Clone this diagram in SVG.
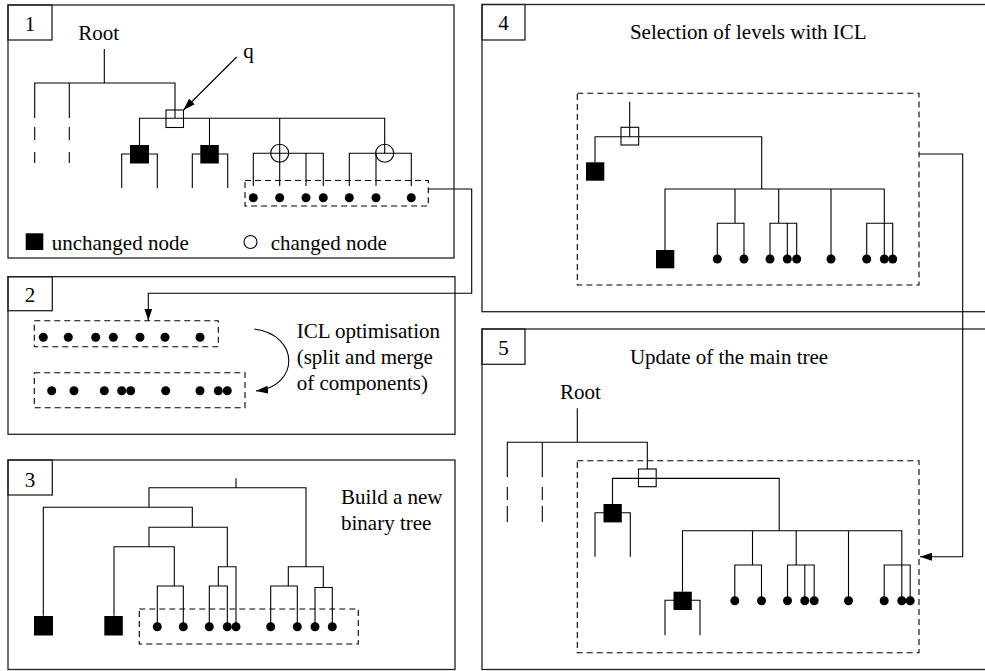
<svg xmlns="http://www.w3.org/2000/svg" width="985" height="671" viewBox="0 0 985 671" font-family="'Liberation Serif', 'Times New Roman', Times, 'DejaVu Serif', serif">
<style>
.ln{stroke:#000;stroke-width:1.1;fill:none}
.panel{fill:none;stroke:#222;stroke-width:1.3}
.dash{fill:none;stroke:#000;stroke-width:1.1;stroke-dasharray:6 4}
.dot{fill:#000}
.sq{fill:#000}
.hsq{fill:none;stroke:#000;stroke-width:1.1}
text{font-family:'Liberation Serif','Times New Roman',Times,'DejaVu Serif',serif;font-size:21px;fill:#000}
.num{text-anchor:middle}
</style>
<defs>
<marker id="ah" markerWidth="12" markerHeight="8" refX="12" refY="4" orient="auto" markerUnits="userSpaceOnUse"><path d="M0,0 L12,4 L0,8 z" fill="#000"/></marker>
</defs>
<rect width="985" height="671" fill="#fff"/>

<!-- Panel 1 -->
<g id="panel1">
<rect class="panel" x="8" y="5" width="446" height="253"/>
<rect class="panel" x="8" y="5" width="44" height="35"/>
<text class="num" x="30" y="31">1</text>
<text x="78.3" y="40">Root</text>
<text x="243.3" y="57.5">q</text>
<path class="ln" d="M104.3,49 V83 M34.7,118 V83 H175 V118 M69.3,83 V118 M34.7,127 V140 M34.7,152 V163 M69.3,127 V140 M69.3,152 V163"/>
<path class="ln" d="M139.5,145 V118.3 H384.7 V153.3 M209.5,118.3 V145 M279.7,118.3 V186"/>
<rect class="hsq" x="166" y="110" width="17.5" height="17.5"/>
<path class="ln" d="M121.7,188 V154 H157.3 V188 M192.3,188 V154 H227.7 V188"/>
<rect class="sq" x="130" y="145" width="19" height="18.5"/>
<rect class="sq" x="200.3" y="145" width="18.5" height="18.5"/>
<path class="ln" d="M253.3,186 V153.3 H323.3 V186 M306,153.3 V186 M349.3,186 V153.3 H411.3 V186 M376,153.3 V186"/>
<circle class="hsq" cx="279.7" cy="153.3" r="9"/>
<circle class="hsq" cx="384.7" cy="153.3" r="9"/>
<g class="dot"><circle cx="253.3" cy="197.7" r="4.5"/><circle cx="279.7" cy="197.7" r="4.5"/><circle cx="306" cy="197.7" r="4.5"/><circle cx="323.3" cy="197.7" r="4.5"/><circle cx="349.3" cy="197.7" r="4.5"/><circle cx="376" cy="197.7" r="4.5"/><circle cx="411.3" cy="197.7" r="4.5"/></g>
<rect class="dash" x="245" y="180.5" width="183.3" height="25.5"/>
<rect class="sq" x="25.7" y="233.3" width="17.6" height="16.7"/>
<text x="51.7" y="249.5">unchanged node</text>
<circle class="hsq" cx="250.5" cy="242" r="6.5"/>
<text x="270.7" y="249.5">changed node</text>
</g>

<!-- Panel 2 -->
<g id="panel2">
<rect class="panel" x="8" y="276.7" width="447" height="157.6"/>
<rect class="panel" x="8" y="276.7" width="44.3" height="34"/>
<text class="num" x="30" y="302">2</text>
<rect class="dash" x="34.3" y="320.7" width="184" height="26"/>
<g class="dot"><circle cx="43.3" cy="337.3" r="4.5"/><circle cx="68.3" cy="337.3" r="4.5"/><circle cx="95.7" cy="337.3" r="4.5"/><circle cx="113.3" cy="337.3" r="4.5"/><circle cx="140" cy="337.3" r="4.5"/><circle cx="165" cy="337.3" r="4.5"/><circle cx="200" cy="337.3" r="4.5"/></g>
<rect class="dash" x="34.3" y="372.7" width="210.7" height="35"/>
<g class="dot"><circle cx="51.7" cy="390.7" r="4.5"/><circle cx="74" cy="390.7" r="4.5"/><circle cx="104.3" cy="390.7" r="4.5"/><circle cx="121.7" cy="390.7" r="4.5"/><circle cx="130.7" cy="390.7" r="4.5"/><circle cx="165.7" cy="390.7" r="4.5"/><circle cx="200" cy="390.7" r="4.5"/><circle cx="218.3" cy="390.7" r="4.5"/><circle cx="227.3" cy="390.7" r="4.5"/></g>
<text x="296.7" y="338.3">ICL optimisation</text>
<text x="296.7" y="364">(split and merge</text>
<text x="296.7" y="390">of components)</text>
</g>

<!-- Panel 3 -->
<g id="panel3">
<rect class="panel" x="8" y="460" width="447" height="209.5"/>
<rect class="panel" x="8" y="460" width="44.3" height="35"/>
<text class="num" x="30" y="487">3</text>
<text x="341" y="504.3">Build a new</text>
<text x="341" y="530">binary tree</text>
<path class="ln" d="M236,478.3 V487.7 M149,507.3 V487.7 H306 V566.7 M43.3,615.7 V507.3 H192.3 V527.3 M149,546.7 V527.3 H227.3 V566.7 M114,615.7 V546.7 H174.3 V586 M157.3,626.7 V586 H183.3 V626.7 M218.3,586 V566.7 H236 V626.7 M209.3,626.7 V586 H227.3 V626.7 M288.3,586 V566.7 H323.3 V587.5 M270.7,626.7 V586 H297.3 V626.7 M315,626.7 V587.5 H332.3 V626.7"/>
<rect class="sq" x="34" y="616" width="19" height="19.5"/>
<rect class="sq" x="104.3" y="616" width="18.5" height="19.5"/>
<g class="dot"><circle cx="157.3" cy="626.7" r="4.5"/><circle cx="183.3" cy="626.7" r="4.5"/><circle cx="209.3" cy="626.7" r="4.5"/><circle cx="227.3" cy="626.7" r="4.5"/><circle cx="236" cy="626.7" r="4.5"/><circle cx="270.7" cy="626.7" r="4.5"/><circle cx="297.3" cy="626.7" r="4.5"/><circle cx="315" cy="626.7" r="4.5"/><circle cx="332.3" cy="626.7" r="4.5"/></g>
<rect class="dash" x="139.3" y="609" width="219" height="35"/>
</g>

<!-- Panel 4 -->
<g id="panel4">
<rect class="panel" x="482" y="4.5" width="520" height="307.2"/>
<rect class="panel" x="482" y="4.5" width="43" height="35.5"/>
<text class="num" x="503.5" y="30">4</text>
<text class="num" x="748.3" y="39">Selection of levels with ICL</text>
<rect class="dash" x="577.3" y="93.3" width="341.7" height="191.7"/>
<path class="ln" d="M629.7,101.7 V136.7"/>
<g id="subtree4">
<rect class="hsq" x="621" y="127.3" width="17.7" height="17.7"/>
<path class="ln" d="M595,162.3 V136.7 H761.7 V189 M665,250 V189 H884.3 V259 M735,189 V223.3 M717.3,259 V223.3 H744 V259 M778.7,189 V223.3 M770,259 V223.3 H796.7 V259 M787.3,223.3 V259 M831,189 V259 M866.7,259 V223.3 H892.7 V259"/>
<rect class="sq" x="586" y="162.3" width="18.3" height="18.4"/>
<rect class="sq" x="656" y="250" width="18.3" height="18.3"/>
<g class="dot"><circle cx="717.3" cy="259" r="4.5"/><circle cx="744" cy="259" r="4.5"/><circle cx="770" cy="259" r="4.5"/><circle cx="787.3" cy="259" r="4.5"/><circle cx="796.7" cy="259" r="4.5"/><circle cx="831" cy="259" r="4.5"/><circle cx="866.7" cy="259" r="4.5"/><circle cx="884.3" cy="259" r="4.5"/><circle cx="892.7" cy="259" r="4.5"/></g>
</g>
</g>

<!-- Panel 5 -->
<g id="panel5">
<rect class="panel" x="482" y="329" width="520" height="340.5"/>
<rect class="panel" x="482" y="329" width="43" height="35.3"/>
<text class="num" x="503.5" y="355">5</text>
<text class="num" x="729" y="364">Update of the main tree</text>
<text x="560" y="399">Root</text>
<path class="ln" d="M577.3,408.3 V442.3 M507.3,477 V442.3 H647.3 V469 M542.3,442.3 V477 M507.3,487 V500 M507.3,506 V522 M542.3,487 V500 M542.3,506 V522"/>
<rect class="dash" x="577.3" y="460.7" width="341.7" height="192"/>
<path class="ln" d="M595,556.7 V512.7 H630.3 V556.7 M665,635.3 V600.3 H700 V635.3"/>
<use href="#subtree4" transform="translate(17.5,341.7)"/>
</g>

<!-- Connectors -->
<g id="connectors">
<path class="ln" d="M236.7,57 L183.5,110" marker-end="url(#ah)"/>
<path class="ln" d="M428.3,189 H471.7 V293.3 H148.3 V320.5" marker-end="url(#ah)"/>
<path class="ln" d="M254.3,329 C300,335 300,386 256,391" marker-end="url(#ah)"/>
<path class="ln" d="M919,154 H962.7 V556.7 H920" marker-end="url(#ah)"/>
</g>
</svg>
